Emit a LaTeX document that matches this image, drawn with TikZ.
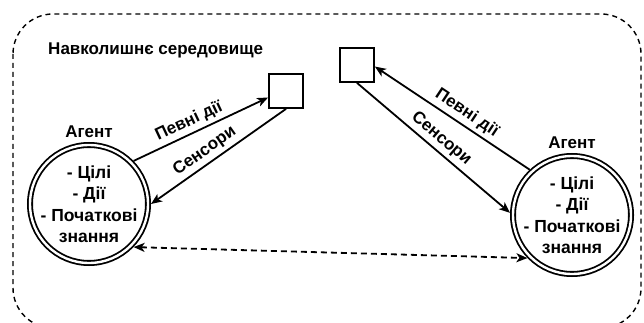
\documentclass[tikz,border=0pt]{standalone}
\usepackage{fontspec}
\setmainfont{Liberation Sans}
\usetikzlibrary{arrows.meta,shapes,automata,positioning,calc}

\begin{document}
\begin{tikzpicture}[->,>={Stealth[length=11pt,width=9pt,inset=3pt]},
x=1pt,y=-1pt,
line width=1.8pt, font=\bfseries\fontsize{17}{20}\selectfont]
\tikzstyle{every state}=[circle, minimum size=118pt, inner sep=0pt, draw, double, double distance=2.4pt, outer sep=3pt, fill=white]
\tikzstyle{env box}=[rectangle, minimum size=34pt, inner sep=0pt, draw]
\tikzstyle{agent text}=[align=center, font=\bfseries\fontsize{17.5}{21.5}\selectfont]

\useasboundingbox (0,0) rectangle (644,323);

%environment
\draw[-, line width=1.4pt, rounded corners=40pt, dash pattern=on 5pt off 4pt] (13,14) rectangle (641,328);
\node[anchor=west] (env) at (44,50) {Навколишнє середовище};

%agents
\node[state,
label={above:Агент},
label={[agent text]center:{- Цілі\\- Дії\\- Початкові\\знання}}]
(agentL) at (89,204) {};

\node[state,
label={above:Агент},
label={[agent text]center:{- Цілі\\- Дії\\- Початкові\\знання}}]
(agentR) at (572,215) {};

%objects
\node[env box] (boxL) at (286,91) {};
\node[env box] (boxR) at (357,65) {};

\path[->] (agentL.44) edge node[sloped, above, pos=0.45] {Певні дії} (boxL.200);
\path[->] (boxL.south) edge node[sloped, above, pos=0.55] {Сенсори} (agentL.0);

\path[->] (agentR.133) edge node[sloped, above, pos=0.45] {Певні дії} (boxR.-5);
\path[->] (boxR.south) edge node[sloped, above] {Сенсори} (agentR.178);

\path[<->, dash pattern=on 6pt off 4pt] (agentL.-44) edge (agentR.224);

\end{tikzpicture}
\end{document}
